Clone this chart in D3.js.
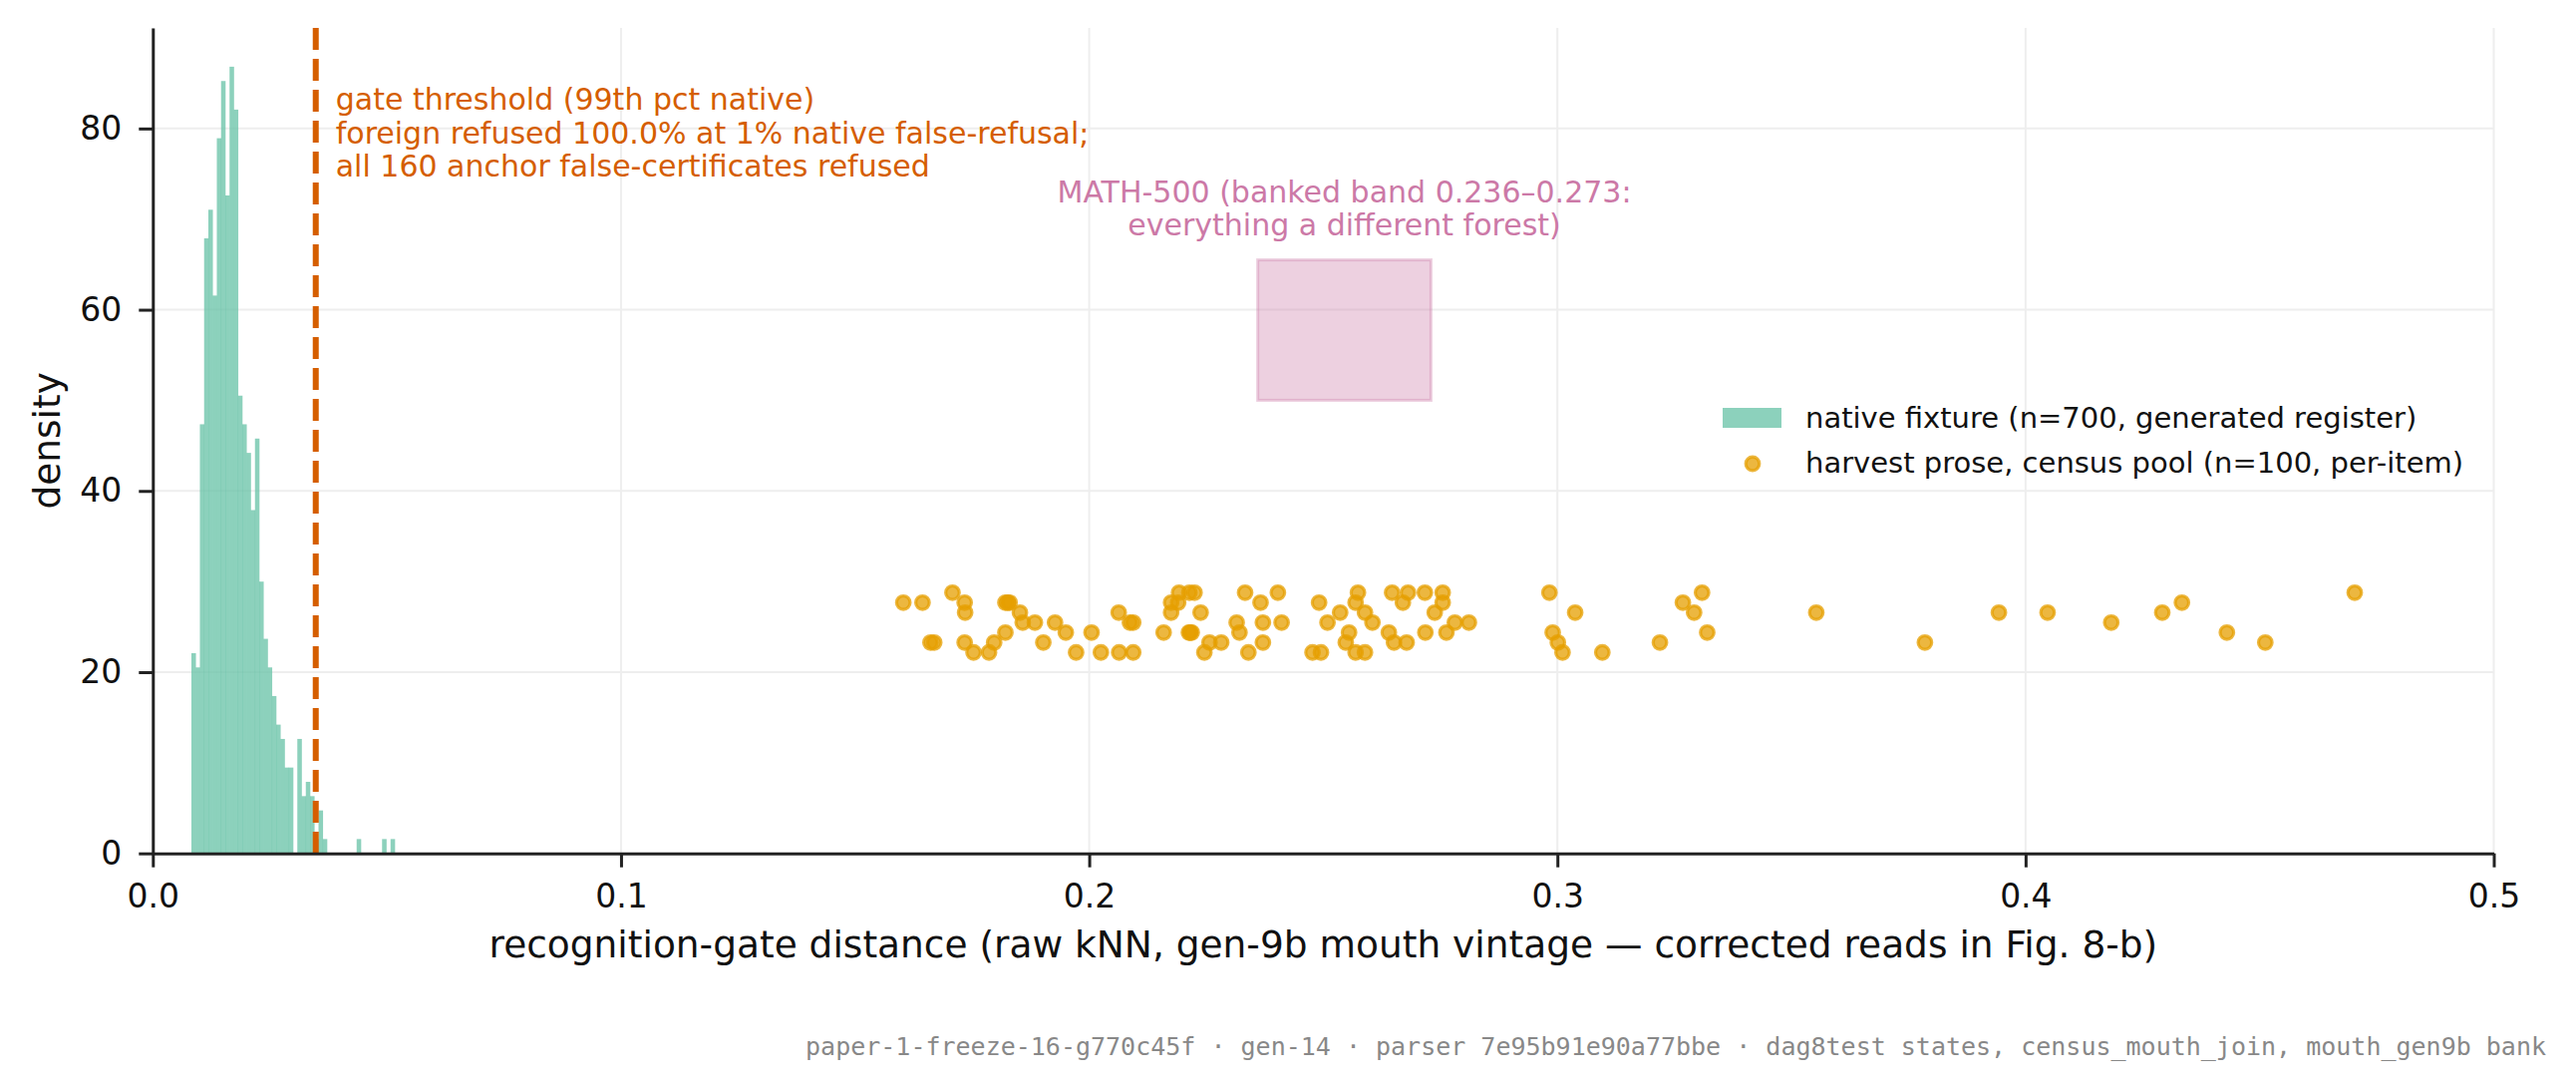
<!DOCTYPE html>
<html>
<head>
<meta charset="utf-8">
<script src="https://cdn.jsdelivr.net/npm/d3@7/dist/d3.min.js"></script>
<style>
  body { margin: 0; background: #fff; }
  svg { display: block; font-family: "DejaVu Sans", sans-serif; }
</style>
</head>
<body>
<svg id="chart" width="2584" height="1094"></svg>
<script>
// native fixture histogram: 48 equal bins between binLo and binHi (counts, n=700)
var nativeN = 700;
var binLo = 0.00824, binHi = 0.05168;
var nativeCounts = [14, 13, 30, 43, 45, 39, 50, 54, 46, 55, 52, 32, 30, 28, 24, 29,
                    19, 15, 13, 11, 9, 8, 6, 6, 0, 8, 4, 5, 4, 1, 3, 1,
                    0, 0, 0, 0, 0, 0, 0, 1, 0, 0, 0, 0, 0, 1, 0, 1];

// harvest prose, census pool: per-item distance and jittered height
var harvestX = [0.1603, 0.1644, 0.1708, 0.1734, 0.1735, 0.1821, 0.1826, 0.1830, 0.1852, 0.1858,
                0.1884, 0.1927, 0.1950, 0.2005, 0.1902, 0.1821, 0.1797, 0.1734, 0.1661, 0.1669,
                0.1753, 0.1786, 0.1972, 0.2025, 0.2064, 0.2094, 0.2063, 0.2087, 0.2094, 0.2159,
                0.2213, 0.2216, 0.2219, 0.2175, 0.2175, 0.2190, 0.2192, 0.2214, 0.2225, 0.2238,
                0.2257, 0.2246, 0.2282, 0.2315, 0.2321, 0.2333, 0.2366, 0.2371, 0.2371, 0.2340,
                0.2403, 0.2411, 0.2491, 0.2509, 0.2536, 0.2555, 0.2548, 0.2477, 0.2495, 0.2574,
                0.2569, 0.2589, 0.2569, 0.2589, 0.2605, 0.2647, 0.2681, 0.2717, 0.2755, 0.2670,
                0.2755, 0.2738, 0.2781, 0.2811, 0.2640, 0.2718, 0.2763, 0.2651, 0.2678, 0.2983,
                0.3038, 0.2990, 0.3001, 0.3011, 0.3096, 0.3219, 0.3268, 0.3309, 0.3292, 0.3320,
                0.3553, 0.3785, 0.3943, 0.4047, 0.4183, 0.4292, 0.4334, 0.4430, 0.4512, 0.4703];
var harvestY = [27.67, 27.67, 28.77, 27.67, 26.57, 27.67, 27.67, 27.67, 26.57, 25.47,
                25.47, 25.47, 24.37, 24.37, 23.27, 24.37, 23.27, 23.27, 23.27, 23.27,
                22.17, 22.17, 22.17, 22.17, 22.17, 22.17, 26.57, 25.47, 25.47, 24.37,
                24.37, 24.37, 24.37, 26.57, 27.67, 27.67, 28.77, 28.77, 28.77, 26.57,
                23.27, 22.17, 23.27, 25.47, 24.37, 28.77, 27.67, 25.47, 23.27, 22.17,
                28.77, 25.47, 27.67, 25.47, 26.57, 24.37, 23.27, 22.17, 22.17, 28.77,
                27.67, 26.57, 22.17, 22.17, 25.47, 28.77, 28.77, 28.77, 28.77, 27.67,
                27.67, 26.57, 25.47, 25.47, 24.37, 24.37, 24.37, 23.27, 23.27, 28.77,
                26.57, 24.37, 23.27, 22.17, 22.17, 23.27, 27.67, 28.77, 26.57, 24.37,
                26.57, 23.27, 26.57, 26.57, 25.47, 26.57, 27.67, 24.37, 23.27, 28.77];

var gateThreshold = 0.0348;
var mathBand = [0.236, 0.273];
var mathBandY = [50, 65.5];

var xTicks = [0.0, 0.1, 0.2, 0.3, 0.4, 0.5];
var yTicks = [0, 20, 40, 60, 80];

var gateLines = ["gate threshold (99th pct native)",
                 "foreign refused 100.0% at 1% native false-refusal;",
                 "all 160 anchor false-certificates refused"];
var mathLines = ["MATH-500 (banked band 0.236\u20130.273:",
                 "everything a different forest)"];
var legendLabels = ["native fixture (n=700, generated register)",
                    "harvest prose, census pool (n=100, per-item)"];
var xLabel = "recognition-gate distance (raw kNN, gen-9b mouth vintage \u2014 corrected reads in Fig. 8-b)";
var footer = "paper-1-freeze-16-g770c45f \u00b7 gen-14 \u00b7 parser 7e95b91e90a77bbe \u00b7 dag8test states, census_mouth_join, mouth_gen9b bank";

var C_NATIVE = "#66c2a5", C_HARVEST = "#e69f00", C_GATE = "#d55e00", C_MATH = "#cc79a7";

var svg = d3.select("#chart");

var x = d3.scaleLinear().domain([0, 0.5]).range([153.3, 2501.5]);
var y = d3.scaleLinear().domain([0, 91.1]).range([855.7, 28]);

// grid
var grid = svg.append("g");
grid.selectAll("line.gx").data(xTicks).enter().append("line")
    .attr("x1", function (d) { return x(d); }).attr("x2", function (d) { return x(d); })
    .attr("y1", y.range()[0]).attr("y2", y.range()[1])
    .attr("stroke", "#eeeeee").attr("stroke-width", 2);
grid.selectAll("line.gy").data(yTicks).enter().append("line")
    .attr("x1", x.range()[0]).attr("x2", x.range()[1])
    .attr("y1", function (d) { return y(d); }).attr("y2", function (d) { return y(d); })
    .attr("stroke", "#eeeeee").attr("stroke-width", 2);

// histogram (density)
var binW = (binHi - binLo) / nativeCounts.length;
var bins = nativeCounts.map(function (c, i) {
    return { x0: binLo + i * binW, x1: binLo + (i + 1) * binW, dens: c / (nativeN * binW) };
});
svg.append("g").selectAll("rect").data(bins.filter(function (b) { return b.dens > 0; }))
    .enter().append("rect")
    .attr("x", function (d) { return x(d.x0); })
    .attr("width", function (d) { return x(d.x1) - x(d.x0) + 0.3; })
    .attr("y", function (d) { return y(d.dens); })
    .attr("height", function (d) { return y(0) - y(d.dens); })
    .attr("fill", C_NATIVE).attr("fill-opacity", 0.75);

// MATH-500 band
svg.append("rect")
    .attr("x", x(mathBand[0])).attr("width", x(mathBand[1]) - x(mathBand[0]))
    .attr("y", y(mathBandY[1])).attr("height", y(mathBandY[0]) - y(mathBandY[1]))
    .attr("fill", C_MATH).attr("fill-opacity", 0.35)
    .attr("stroke", C_MATH).attr("stroke-opacity", 0.35).attr("stroke-width", 3);

var mathText = svg.append("text")
    .attr("text-anchor", "middle").attr("fill", C_MATH).style("font-size", "30px");
mathLines.forEach(function (t, i) {
    mathText.append("tspan")
        .attr("x", x((mathBand[0] + mathBand[1]) / 2))
        .attr("y", 202.7 + i * 33.5).text(t);
});

// harvest points
var pts = harvestX.map(function (v, i) { return { x: v, y: harvestY[i] }; });
svg.append("g").selectAll("circle").data(pts).enter().append("circle")
    .attr("cx", function (d) { return x(d.x); })
    .attr("cy", function (d) { return y(d.y); })
    .attr("r", 6.8)
    .attr("fill", C_HARVEST).attr("fill-opacity", 0.75)
    .attr("stroke", C_HARVEST).attr("stroke-opacity", 0.75).attr("stroke-width", 3.2);

// gate threshold
svg.append("line")
    .attr("x1", x(gateThreshold)).attr("x2", x(gateThreshold))
    .attr("y1", y.range()[1]).attr("y2", y(0))
    .attr("stroke", C_GATE).attr("stroke-width", 6)
    .attr("stroke-dasharray", "22,9");

var gateText = svg.append("text").attr("fill", C_GATE).style("font-size", "30px");
gateLines.forEach(function (t, i) {
    gateText.append("tspan").attr("x", x(gateThreshold) + 20).attr("y", 110 + i * 33.7).text(t);
});

// axes
var xAxis = d3.axisBottom(x).tickValues(xTicks).tickFormat(d3.format(".1f"))
    .tickSize(14).tickSizeOuter(0).tickPadding(17);
var yAxis = d3.axisLeft(y).tickValues(yTicks).tickFormat(d3.format("d"))
    .tickSize(14).tickSizeOuter(0).tickPadding(17);

var gx = svg.append("g").attr("transform", "translate(0," + y(0) + ")").call(xAxis);
var gy = svg.append("g").attr("transform", "translate(" + x(0) + ",0)").call(yAxis);
[gx, gy].forEach(function (g) {
    g.select(".domain").attr("stroke", "#222").attr("stroke-width", 3);
    g.selectAll(".tick line").attr("stroke", "#222").attr("stroke-width", 3);
    g.selectAll(".tick text").attr("fill", "#111")
        .style("font-family", "DejaVu Sans").style("font-size", "33px");
});

svg.append("text")
    .attr("x", (x.range()[0] + x.range()[1]) / 2).attr("y", 960)
    .attr("text-anchor", "middle").attr("fill", "#111").style("font-size", "37.5px")
    .text(xLabel);

svg.append("text")
    .attr("transform", "translate(60," + (y.range()[0] + y.range()[1]) / 2 + ") rotate(-90)")
    .attr("text-anchor", "middle").attr("fill", "#111").style("font-size", "37.5px")
    .text("density");

// legend
var leg = svg.append("g");
leg.append("rect").attr("x", 1728).attr("y", 409).attr("width", 59).attr("height", 20)
    .attr("fill", C_NATIVE).attr("fill-opacity", 0.75);
leg.append("circle").attr("cx", 1758).attr("cy", 465).attr("r", 6.8)
    .attr("fill", C_HARVEST).attr("fill-opacity", 0.75)
    .attr("stroke", C_HARVEST).attr("stroke-opacity", 0.75).attr("stroke-width", 3.2);
legendLabels.forEach(function (t, i) {
    leg.append("text").attr("x", 1811).attr("y", 429 + i * 45)
        .attr("fill", "#111").style("font-size", "29px").text(t);
});

// footer
svg.append("text")
    .attr("x", 2554).attr("y", 1058).attr("text-anchor", "end")
    .attr("fill", "#888").style("font-family", "DejaVu Sans Mono").style("font-size", "25px")
    .text(footer);
</script>
</body>
</html>
